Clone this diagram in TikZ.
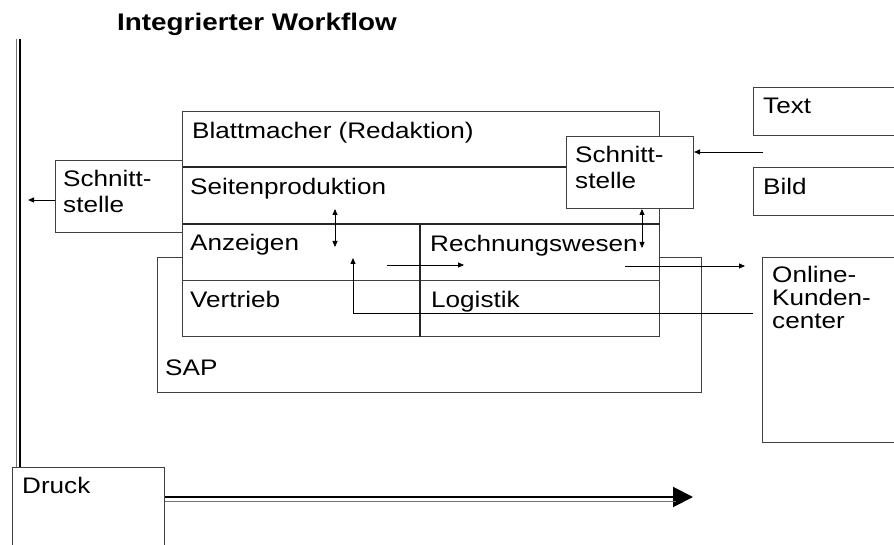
\documentclass[tikz,border=0pt]{standalone}
\usepackage{fontspec}
\setmainfont{Liberation Sans}[FakeStretch=1.16]
\usetikzlibrary{arrows.meta}
\begin{document}
\begin{tikzpicture}[x=1pt,y=-1pt,
  box/.style={draw=black!75, line width=1pt, inner sep=0pt, anchor=north west},
  txt/.style={anchor=base west, inner sep=0pt, font=\fontsize{22.5}{25}\selectfont},
  ml/.style={txt, align=left},
  arr/.style={draw=black, line width=0.8pt, -{Triangle[length=6pt,width=5pt]}},
  darr/.style={draw=black, line width=0.8pt, {Triangle[length=6pt,width=5pt]}-{Triangle[length=6pt,width=5pt]}}]
\useasboundingbox (0,0) rectangle (894,545);
\clip (0,0) rectangle (894,545);

% title
\node[anchor=base west, inner sep=0pt, font=\fontsize{24}{28}\selectfont\bfseries] (title) at (117,31) {Integrierter Workflow};

% SAP box (behind main box)
\node[box, minimum width=544pt, minimum height=135pt] (sap) at (157,257) {};
\node[txt] (tsap) at (165,375) {SAP};

% main box
\node[box, fill=white, line width=1.3pt, minimum width=477pt, minimum height=225pt] (main) at (182,111) {};
\draw[black!85, line width=1.8pt] (main.west |- 0,167) -- (main.east |- 0,167);
\draw[black!85, line width=1.8pt] (main.west |- 0,224) -- (main.east |- 0,224);
\draw[black!75, line width=1pt] (main.west |- 0,281) -- (main.east |- 0,281);
\draw[black!85, line width=1.8pt] (420,224) -- (main.south -| 420,0);
\node[txt] (tblatt) at (192,139) {Blattmacher (Redaktion)};
\node[txt] (tseiten) at (190,195) {Seitenproduktion};
\node[txt] (tanz) at (190,251) {Anzeigen};
\node[txt] (trech) at (430,252) {Rechnungswesen};
\node[txt] (tvert) at (190,308) {Vertrieb};
\node[txt] (tlogi) at (431,308) {Logistik};

% left Schnittstelle
\node[box, fill=white, minimum width=127pt, minimum height=72pt] (lsch) at (55,160) {};
\node[ml] (tlsch) at (63,213) {Schnitt-\\[1pt]stelle};

% right Schnittstelle
\node[box, fill=white, minimum width=127pt, minimum height=72pt] (rsch) at (566,136) {};
\node[ml] (trsch) at (575,189) {Schnitt-\\[1pt]stelle};

% Text, Bild
\node[box, minimum width=160pt, minimum height=48pt] (text) at (753,87) {};
\node[txt] (ttext) at (763,114) {Text};
\node[box, minimum width=160pt, minimum height=48pt] (bild) at (753,167) {};
\node[txt] (tbild) at (763,195) {Bild};

% Online-Kundencenter
\node[box, minimum width=160pt, minimum height=185pt] (online) at (762,257) {};
\node[ml] (tonline) at (772,328) {Online-\\[-2pt]Kunden-\\[-2pt]center};

% Druck
\node[box, minimum width=152pt, minimum height=100pt] (druck) at (12,467) {};
\node[txt] (tdruck) at (22,493) {Druck};

% left vertical double line
\coordinate (vtop) at (20,39);
\coordinate (vtopg) at (16.5,39);
\draw[black, line width=2.4pt] (vtop) -- (vtop |- druck.north);
\draw[black!55, line width=1pt] (vtopg) -- (vtopg |- druck.north);

% Druck arrow
\coordinate (dend) at (693,497);
\coordinate (dendg) at (676,501);
\draw[black, line width=2pt, -{Triangle[length=20pt,width=20pt]}] (druck.east |- dend) -- (dend);
\draw[black!55, line width=1pt] (druck.east |- dendg) -- (dendg);

% arrows
\coordinate (lend) at (28,200);
\draw[arr] (lsch.west |- lend) -- (lend);

\coordinate (tin) at (763,152);
\draw[arr] (tin) -- (tin -| rsch.east);

\coordinate (rd) at (642,248);
\draw[darr] (rsch.south -| rd) -- (rd);

\coordinate (su) at (335,209);
\coordinate (sd) at (335,247);
\draw[darr] (su) -- (sd);

\coordinate (a1s) at (387,265);
\coordinate (a1e) at (464,265);
\draw[arr] (a1s) -- (a1e);

\coordinate (a2s) at (625,266);
\coordinate (a2e) at (745,266);
\draw[arr] (a2s) -- (a2e);

\coordinate (rs) at (753,313);
\coordinate (re) at (353,258);
\draw[arr] (rs) -| (re);
\end{tikzpicture}
\end{document}
